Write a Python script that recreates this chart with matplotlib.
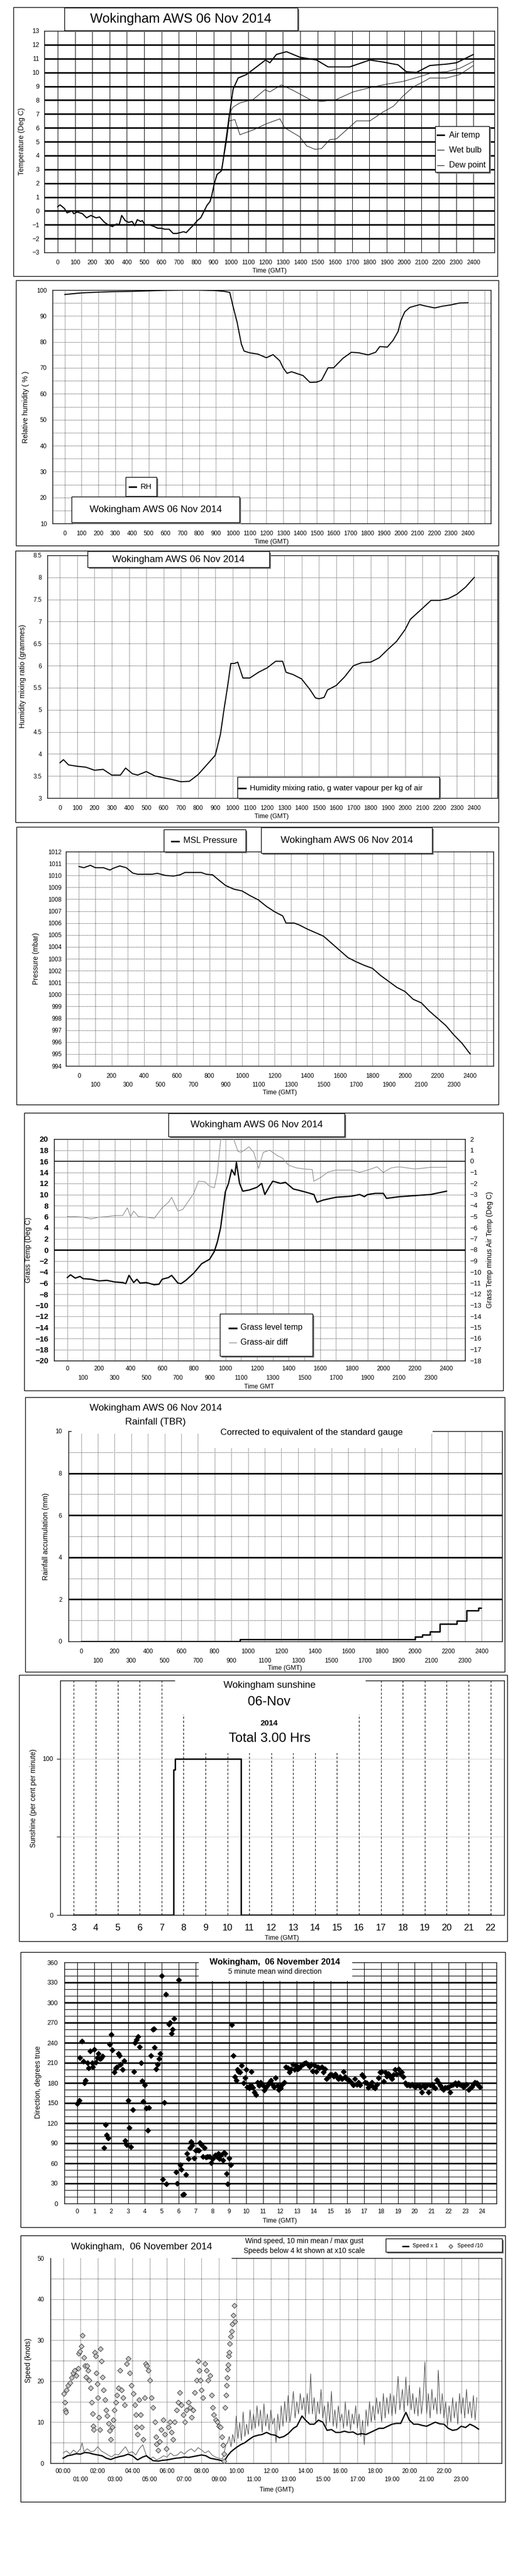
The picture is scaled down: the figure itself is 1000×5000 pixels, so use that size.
import matplotlib
matplotlib.use("Agg")
import matplotlib.pyplot as plt
from matplotlib.patches import Rectangle
from matplotlib.lines import Line2D

plt.rcParams['font.family'] = ['Liberation Sans', 'DejaVu Sans']

# ---------------------------------------------------------------- data
# panel 1 - temperatures, time as hhmm, deg C
night_t = [0, 14, 39, 54, 83, 93, 113, 143, 167, 192, 222, 242, 271, 291, 316, 341, 355, 370,
           390, 410, 430, 445, 460, 479, 489, 504, 529, 558, 578, 598, 618, 643, 667, 687, 707,
           727, 742, 766, 786, 806, 826, 846, 861, 880, 890, 905, 920, 946, 975]
night_v = [0.3, 0.44, 0.18, -0.14, 0.0, -0.2, -0.08, -0.2, -0.5, -0.33, -0.5, -0.44, -0.83, -1.0,
           -1.13, -0.94, -1.0, -0.33, -0.7, -0.83, -0.76, -1.07, -0.63, -0.76, -0.7, -1.0, -1.0,
           -1.13, -1.25, -1.25, -1.32, -1.32, -1.63, -1.63, -1.57, -1.5, -1.57, -1.25, -1.0, -0.7,
           -0.5, 0.0, 0.38, 0.69, 1.13, 2.0, 2.63, 2.9, 5.2]
air_t = [994, 1013, 1042, 1090, 1148, 1200, 1225, 1263, 1321, 1398, 1494, 1561, 1686, 1802,
         1879, 1965, 2013, 2071, 2148, 2244, 2302, 2400]
air_v = [7.1, 8.8, 9.6, 9.85, 10.4, 10.9, 10.7, 11.3, 11.5, 11.1, 10.9, 10.4, 10.4, 10.9,
         10.75, 10.55, 10.05, 10.0, 10.5, 10.6, 10.7, 11.3]
wet_t = [990, 1013, 1052, 1129, 1196, 1225, 1292, 1360, 1456, 1523, 1609, 1706, 1802, 1898,
         1994, 2090, 2167, 2244, 2321, 2400]
wet_v = [7.0, 7.5, 7.8, 8.05, 8.75, 8.6, 9.1, 8.7, 8.05, 7.9, 8.05, 8.6, 8.9, 9.15, 9.35, 9.7,
         10.0, 10.05, 10.3, 10.8]
dew_t = [990, 1023, 1052, 1129, 1206, 1283, 1311, 1398, 1437, 1485, 1523, 1571, 1609, 1725,
         1802, 1879, 1937, 1994, 2052, 2129, 2148, 2244, 2321, 2400]
dew_v = [6.5, 6.6, 5.5, 5.85, 6.3, 6.65, 6.0, 5.35, 4.7, 4.45, 4.5, 5.15, 5.2, 6.5, 6.5, 7.15,
         7.55, 8.3, 8.95, 9.45, 9.6, 9.6, 9.85, 10.5]

# panel 2 - relative humidity (%)
rh_t = [0, 100, 200, 300, 400, 500, 600, 700, 800, 900, 950, 982, 1002, 1026, 1051, 1067, 1100,
        1150, 1200, 1240, 1280, 1300, 1323, 1350, 1419, 1459, 1500, 1528, 1567, 1600, 1657, 1706,
        1750, 1806, 1850, 1875, 1920, 1954, 1984, 2000, 2024, 2054, 2113, 2150, 2202, 2250, 2300,
        2350, 2400]
rh_v = [98.3, 98.9, 99.2, 99.4, 99.5, 99.7, 99.9, 100, 100, 99.8, 99.5, 99.1, 93.6, 87.5, 79.2,
        76.5, 75.8, 75.3, 73.9, 75.1, 72.7, 70.0, 67.9, 68.5, 67.0, 64.4, 64.5, 65.2, 70.0, 70.0,
        73.75, 76.0, 75.8, 75.0, 76.0, 78.2, 78.0, 80.6, 84.0, 88.1, 91.6, 93.3, 94.4, 93.8, 93.1,
        93.8, 94.3, 95.0, 95.1]

# panel 3 - humidity mixing ratio (g/kg)
mr_t = [0, 20, 50, 100, 150, 200, 250, 300, 350, 380, 420, 450, 500, 550, 600, 650, 700, 750,
        800, 850, 900, 930, 950, 970, 990, 1010, 1030, 1060, 1100, 1150, 1200, 1250, 1290, 1310,
        1350, 1400, 1450, 1480, 1500, 1530, 1550, 1600, 1650, 1700, 1750, 1800, 1850, 1900, 1950,
        2000, 2030, 2100, 2150, 2200, 2250, 2300, 2350, 2400]
mr_v = [3.8, 3.87, 3.75, 3.72, 3.7, 3.63, 3.65, 3.52, 3.52, 3.68, 3.55, 3.52, 3.6, 3.5, 3.46,
        3.42, 3.37, 3.38, 3.53, 3.75, 3.97, 4.45, 5.0, 5.5, 6.05, 6.05, 6.08, 5.72, 5.72, 5.85,
        5.95, 6.1, 6.1, 5.85, 5.8, 5.7, 5.45, 5.27, 5.25, 5.28, 5.45, 5.55, 5.75, 6.0, 6.07, 6.08,
        6.18, 6.37, 6.55, 6.82, 7.05, 7.3, 7.48, 7.48, 7.52, 7.62, 7.78, 8.0]

# panel 4 - MSL pressure (mbar)
p_t = [0, 30, 70, 100, 150, 190, 210, 250, 290, 330, 360, 400, 450, 480, 530, 580, 620, 650, 700,
       750, 780, 820, 850, 900, 950, 1000, 1050, 1100, 1150, 1200, 1250, 1270, 1320, 1350, 1400,
       1450, 1500, 1550, 1600, 1650, 1700, 1750, 1800, 1850, 1900, 1950, 2000, 2050, 2100, 2150,
       2200, 2250, 2300, 2350, 2400]
p_v = [1010.75, 1010.65, 1010.85, 1010.65, 1010.65, 1010.45, 1010.6, 1010.8, 1010.65, 1010.2,
       1010.1, 1010.1, 1010.1, 1010.18, 1010.0, 1009.95, 1010.05, 1010.25, 1010.25, 1010.25,
       1010.1, 1010.05, 1009.7, 1009.15, 1008.85, 1008.7, 1008.3, 1007.95, 1007.4, 1006.95,
       1006.6, 1006.0, 1006.0, 1005.85, 1005.5, 1005.2, 1004.9, 1004.3, 1003.7, 1003.1, 1002.75,
       1002.45, 1002.2, 1001.6, 1001.1, 1000.6, 1000.25, 999.6, 999.3, 998.6, 998.0, 997.4,
       996.6, 995.9, 995.0]

# panel 5 - grass temperature (deg C) and grass minus air (deg C)
g_t = [0, 20, 50, 80, 100, 150, 200, 250, 300, 350, 370, 390, 420, 440, 460, 500, 550, 580, 600,
       640, 660, 700, 720, 750, 800, 850, 900, 930, 950, 970, 1000, 1020, 1040, 1060, 1070, 1090,
       1110, 1150, 1200, 1230, 1250, 1280, 1300, 1350, 1380, 1430, 1500, 1560, 1580, 1620, 1700,
       1800, 1850, 1880, 1900, 1950, 2000, 2020, 2100, 2200, 2300, 2400]
g_v = [-5.0, -4.5, -5.1, -4.8, -5.2, -5.3, -5.6, -5.5, -5.8, -5.9, -6.1, -4.6, -5.9, -5.3, -6.0,
       -5.9, -6.3, -6.2, -5.3, -5.0, -4.6, -6.0, -6.1, -5.5, -4.2, -2.5, -1.7, -0.3, 1.5, 4.0,
       10.5, 12.0, 14.5, 13.5, 15.8, 12.0, 10.6, 10.8, 11.3, 12.0, 10.0, 11.5, 12.4, 12.0, 12.2,
       11.0, 10.5, 10.0, 8.6, 9.0, 9.5, 9.7, 10.0, 9.6, 10.0, 10.2, 10.2, 9.3, 9.6, 9.8, 10.0,
       10.6]
gd_t = [0, 50, 100, 150, 200, 250, 300, 350, 380, 400, 420, 450, 500, 550, 600, 640, 660, 700,
        730, 800, 830, 870, 900, 930, 950, 970, 990, 1050, 1080, 1100, 1150, 1180, 1210, 1240,
        1280, 1330, 1360, 1400, 1450, 1500, 1550, 1560, 1600, 1650, 1700, 1800, 1850, 1900, 1960,
        2000, 2050, 2100, 2200, 2300, 2400]
gd_v = [-5.0, -5.0, -5.05, -5.2, -5.05, -5.0, -4.9, -4.9, -4.2, -5.0, -4.5, -5.0, -5.05, -5.15,
        -4.2, -3.7, -3.25, -4.5, -4.35, -2.9, -1.8, -1.85, -2.25, -2.4, -1.05, 1.9, 2.2, 2.1, 0.9,
        0.8, 1.3, 0.8, -0.65, 0.8, 1.0, 0.5, 0.3, -0.35, -0.6, -0.7, -0.75, -1.8, -1.5, -0.97,
        -0.8, -0.8, -1.0, -0.8, -0.5, -1.0, -0.6, -0.5, -0.7, -0.55, -0.55]

# panel 6 - rainfall accumulation (mm), stepped
rain_t = [0, 952, 2000, 2046, 2090, 2150, 2250, 2310, 2380, 2395]
rain_v = [0, 0.1, 0.21, 0.33, 0.47, 0.83, 0.97, 1.46, 1.59, 1.59]

# panel 7 - sunshine (per cent per minute), hours
sun_t = [3, 7.55, 7.62, 10.63, 22]
sun_v = [0, 93, 100, 0, 0]

# panel 8 - 5 minute mean wind direction (hours, degrees)
wd_t = [0.0, 0.1, 0.16, 0.26, 0.36, 0.41, 0.49, 0.59, 0.65, 0.75, 0.87, 0.91, 1.0, 1.1, 1.17,
        1.25, 1.34, 1.4, 1.48, 1.58, 1.66, 1.74, 1.82, 1.92, 2.0, 2.08, 2.19, 2.27, 2.35, 2.43,
        2.49, 2.57, 2.67, 2.77, 2.83, 2.92, 3.02, 3.08, 3.16, 3.28, 3.34, 3.42, 3.5, 3.58, 3.68,
        3.77, 3.85, 3.91, 3.99, 4.07, 4.17, 4.25, 4.37, 4.47, 4.53, 4.58, 4.66, 4.74, 4.84, 4.9,
        5.0, 5.06, 5.14, 5.24, 5.26, 5.43, 5.49, 5.59, 5.65, 5.73, 5.85, 5.93, 6.01, 6.09, 6.17,
        6.25, 6.32, 6.42, 6.48, 6.58, 6.68, 6.74, 6.8, 6.92, 7.02, 7.11, 7.19, 7.27, 7.35, 7.43,
        7.53, 7.63, 7.71, 7.83, 7.92, 8.02, 8.16, 8.26, 8.36, 8.42, 8.5, 8.62, 8.68, 8.75, 8.85,
        8.91, 8.99, 9.09, 9.15, 9.25, 9.33, 9.41, 9.49, 9.55, 9.64, 9.74, 9.84, 9.94, 10.0,
        10.08, 10.2, 10.28, 10.32, 10.4, 10.49, 10.57, 10.67, 10.77, 10.87, 10.97, 11.07, 11.17,
        11.26, 11.36, 11.46, 11.56, 11.66, 11.74, 11.86, 11.94, 12.06, 12.13, 12.25, 12.37,
        12.47, 12.57, 12.67, 12.77, 12.87, 12.96, 13.06, 13.16, 13.26, 13.36, 13.46, 13.56,
        13.66, 13.75, 13.85, 13.95, 14.05, 14.15, 14.25, 14.35, 14.49, 14.59, 14.68, 14.78,
        14.88, 14.98, 15.08, 15.18, 15.28, 15.38, 15.47, 15.57, 15.67, 15.77, 15.87, 15.97,
        16.07, 16.17, 16.26, 16.36, 16.46, 16.56, 16.66, 16.76, 16.86, 16.96, 17.06, 17.15,
        17.25, 17.35, 17.45, 17.55, 17.65, 17.75, 17.85, 17.94, 18.04, 18.14, 18.24, 18.34,
        18.44, 18.54, 18.64, 18.74, 18.83, 18.93, 19.03, 19.13, 19.23, 19.33, 19.43, 19.53,
        19.62, 19.72, 19.82, 19.92, 20.02, 20.12, 20.22, 20.32, 20.42, 20.51, 20.61, 20.71,
        20.81, 20.91, 21.01, 21.11, 21.21, 21.3, 21.4, 21.5, 21.6, 21.7, 21.8, 21.9, 22.0, 22.09,
        22.19, 22.29, 22.39, 22.49, 22.59, 22.68, 22.78, 22.88, 22.98, 23.08, 23.18, 23.28,
        23.38, 23.47, 23.57, 23.67, 23.77, 23.87]
wd_d = [149, 154, 218, 242, 212, 180, 184, 210, 202, 228, 210, 204, 230, 211, 218, 224, 216, 217,
        220, 83, 118, 102, 98, 238, 252, 229, 196, 202, 204, 224, 221, 208, 200, 213, 94, 88, 154,
        113, 85, 140, 197, 240, 245, 249, 234, 210, 183, 152, 177, 142, 109, 143, 221, 260, 261,
        233, 201, 208, 216, 224, 340, 36, 151, 312, 29, 268, 270, 254, 260, 276, 47, 30, 334, 58,
        51, 13, 14, 43, 75, 67, 83, 92, 87, 68, 79, 80, 79, 91, 88, 70, 83, 69, 70, 70, 61, 67,
        72, 70, 75, 67, 72, 65, 76, 75, 45, 29, 68, 58, 267, 221, 189, 184, 200, 197, 196, 206,
        180, 188, 200, 174, 172, 177, 197, 173, 166, 162, 181, 176, 181, 177, 169, 173, 176, 180,
        184, 178, 174, 188, 176, 170, 172, 178, 181, 204, 202, 196, 201, 208, 200, 206, 201, 202,
        206, 208, 209, 210, 208, 205, 208, 198, 206, 197, 204, 202, 204, 196, 201, 186, 189, 192,
        192, 190, 193, 189, 186, 189, 186, 197, 189, 186, 185, 182, 180, 177, 186, 178, 181, 177,
        192, 189, 181, 180, 173, 178, 181, 174, 172, 178, 188, 196, 197, 182, 196, 190, 194, 189,
        186, 192, 200, 193, 201, 194, 196, 189, 180, 177, 178, 176, 178, 176, 174, 176, 177, 174,
        166, 177, 174, 177, 166, 177, 178, 174, 172, 185, 181, 176, 172, 170, 173, 173, 174, 166,
        177, 178, 180, 177, 180, 178, 176, 174, 177, 178, 170, 172, 174, 178, 181, 180, 176, 174]

# panel 9 - wind speed (hours, knots)
ws_t = [0, 0.25, 0.5, 0.75, 1.0, 1.25, 1.5, 1.75, 2.0, 2.25, 2.5, 2.75, 3.0, 3.25, 3.5, 3.75,
        4.0, 4.3, 4.6, 4.8, 5.0, 5.2, 5.5, 5.75, 6.0, 6.25, 6.5, 6.75, 7.0, 7.25, 7.5, 7.75, 8.0,
        8.25, 8.5, 8.75, 9.0, 9.3, 9.5, 9.7, 10.0, 10.25, 10.5, 10.75, 11.0, 11.25, 11.5, 11.75,
        12.0, 12.25, 12.5, 12.75, 13.0, 13.3, 13.5, 13.8, 14.0, 14.25, 14.5, 14.75, 15.0, 15.25,
        15.5, 15.75, 16.0, 16.25, 16.5, 16.75, 17.0, 17.25, 17.5, 17.75, 18.0, 18.25, 18.5,
        18.75, 19.0, 19.25, 19.5, 19.8, 20.0, 20.25, 20.5, 20.75, 21.0, 21.25, 21.5, 21.75, 22.0,
        22.25, 22.5, 22.75, 23.0, 23.25, 23.5, 23.75, 24.0]
ws_v = [1.2, 1.8, 2.0, 2.3, 2.2, 2.6, 2.5, 2.2, 2.0, 1.8, 1.2, 0.9, 1.3, 1.6, 1.8, 2.2, 1.8, 0.8,
        1.5, 1.8, 1.2, 0.6, 0.5, 0.7, 0.8, 1.0, 1.2, 1.3, 1.5, 1.4, 1.6, 1.8, 2.0, 1.8, 1.2, 1.0,
        0.8, 0.4, 1.8, 2.8, 3.8, 4.5, 5.0, 5.8, 6.5, 6.8, 7.0, 7.5, 7.0, 6.8, 6.2, 6.5, 7.2, 8.5,
        9.0, 11.5, 10.5, 9.5, 9.5, 10.5, 10.0, 8.0, 8.2, 7.5, 7.5, 7.8, 7.5, 7.6, 7.0, 7.2, 7.0,
        7.5, 8.0, 8.5, 8.5, 9.0, 9.5, 9.7, 9.7, 12.4, 10.5, 9.5, 9.5, 9.2, 9.0, 9.5, 10.0, 9.6,
        9.5, 8.5, 8.0, 8.2, 9.0, 8.7, 9.5, 9.0, 8.3]
gust_t = [0.0, 0.2, 0.4, 0.6, 0.8, 1.0, 1.1, 1.2, 1.4, 1.6, 1.8, 2.0, 2.2, 2.4, 2.6, 2.8, 3.0,
          3.2, 3.4, 3.6, 3.8, 4.0, 4.2, 4.4, 4.6, 4.8, 5.0, 5.2, 5.4, 5.6, 5.8, 6.0, 6.2, 6.4,
          6.6, 6.8, 7.0, 7.2, 7.4, 7.6, 7.8, 8.0, 8.2, 8.4, 8.6, 8.8, 9.0, 9.2, 9.3, 9.4, 9.5,
          9.6, 9.7, 9.8, 9.9, 10.0, 10.1, 10.2, 10.3, 10.4, 10.5, 10.6, 10.7, 10.8, 10.9, 11.0,
          11.1, 11.2, 11.3, 11.4, 11.5, 11.6, 11.7, 11.8, 11.9, 12.0, 12.1, 12.2, 12.3, 12.4,
          12.5, 12.6, 12.7, 12.8, 12.9, 13.0, 13.1, 13.2, 13.3, 13.4, 13.5, 13.6, 13.7, 13.8,
          13.9, 14.0, 14.1, 14.2, 14.3, 14.4, 14.5, 14.6, 14.7, 14.8, 14.9, 15.0, 15.1, 15.2,
          15.3, 15.4, 15.5, 15.6, 15.7, 15.8, 15.9, 16.0, 16.1, 16.2, 16.3, 16.4, 16.5, 16.6,
          16.7, 16.8, 16.9, 17.0, 17.1, 17.2, 17.3, 17.4, 17.5, 17.6, 17.7, 17.8, 17.9, 18.0,
          18.1, 18.2, 18.3, 18.4, 18.5, 18.6, 18.7, 18.8, 18.9, 19.0, 19.1, 19.2, 19.35, 19.45,
          19.6, 19.7, 19.8, 19.9, 20.0, 20.1, 20.2, 20.3, 20.4, 20.5, 20.6, 20.7, 20.8, 20.9,
          21.0, 21.1, 21.2, 21.3, 21.4, 21.5, 21.6, 21.67, 21.8, 21.9, 22.0, 22.1, 22.2, 22.3,
          22.4, 22.5, 22.6, 22.7, 22.8, 22.9, 23.0, 23.1, 23.2, 23.3, 23.4, 23.5, 23.6, 23.7,
          23.8, 23.9]
gust_v = [2.5, 3.0, 2.2, 3.2, 2.5, 3.5, 5.0, 2.8, 3.5, 2.8, 3.0, 4.0, 3.0, 2.5, 2.0, 1.5, 2.2,
          2.0, 3.0, 4.0, 2.5, 2.8, 2.0, 3.5, 4.5, 2.0, 1.0, 1.5, 0.8, 1.2, 1.8, 1.5, 2.5, 1.8,
          2.0, 2.8, 2.2, 3.0, 3.5, 2.8, 3.8, 3.2, 2.5, 3.0, 2.0, 1.5, 1.2, 1.0, 2.5, 4.5, 5.0,
          6.5, 4.0, 7.0, 5.0, 11.5, 6.0, 10.0, 5.5, 12.5, 6.5, 9.5, 7.0, 13.0, 8.0, 12.0, 8.5,
          14.0, 9.0, 13.0, 7.5, 14.5, 9.0, 12.0, 8.0, 13.0, 9.5, 11.0, 5.0, 12.0, 8.0, 14.0, 9.0,
          15.0, 10.0, 16.5, 10.0, 13.0, 17.5, 11.0, 15.0, 12.0, 17.0, 13.0, 16.0, 11.0, 17.0,
          12.0, 21.8, 12.0, 16.0, 10.0, 15.0, 12.0, 18.0, 11.0, 14.0, 9.0, 15.0, 10.0, 17.5,
          9.0, 13.0, 8.5, 14.0, 10.0, 12.0, 8.5, 15.0, 9.0, 13.0, 8.0, 12.0, 9.5, 14.0, 8.5,
          12.0, 6.5, 10.5, 4.5, 13.0, 9.0, 15.0, 10.0, 14.0, 10.5, 16.0, 12.0, 15.0, 10.0, 17.0,
          11.0, 16.0, 12.0, 17.0, 11.5, 16.5, 12.0, 21.2, 13.0, 18.0, 12.5, 21.0, 14.0, 19.0,
          13.0, 17.0, 12.0, 16.0, 11.5, 18.5, 12.0, 16.0, 24.7, 12.0, 17.0, 11.0, 18.0, 13.0,
          16.0, 12.0, 22.7, 12.0, 17.0, 11.0, 15.0, 9.0, 14.0, 10.0, 16.0, 11.0, 15.0, 9.5, 17.0,
          12.0, 16.0, 11.0, 18.0, 12.0, 15.0, 11.0, 16.5, 10.5, 16.0]
low_t = [0.04, 0.1, 0.13, 0.15, 0.19, 0.29, 0.39, 0.48, 0.58, 0.67, 0.77, 0.87, 0.92, 0.96, 1.06,
         1.12, 1.19, 1.25, 1.31, 1.39, 1.45, 1.5, 1.58, 1.66, 1.7, 1.73, 1.77, 1.83, 1.89, 1.93,
         1.98, 2.02, 2.06, 2.12, 2.16, 2.22, 2.27, 2.33, 2.41, 2.47, 2.54, 2.62, 2.7, 2.76, 2.83,
         2.89, 2.97, 3.04, 3.12, 3.2, 3.28, 3.37, 3.47, 3.56, 3.66, 3.76, 3.85, 3.95, 4.05, 4.14,
         4.2, 4.24, 4.3, 4.39, 4.47, 4.55, 4.62, 4.72, 4.78, 4.84, 4.91, 5.01, 5.11, 5.2, 5.3,
         5.36, 5.39, 5.49, 5.59, 5.68, 5.78, 5.88, 5.97, 6.07, 6.17, 6.26, 6.36, 6.45, 6.55, 6.65,
         6.74, 6.84, 6.94, 7.03, 7.13, 7.23, 7.32, 7.42, 7.51, 7.61, 7.71, 7.8, 7.86, 7.94, 8.0,
         8.09, 8.19, 8.29, 8.38, 8.48, 8.57, 8.63, 8.71, 8.81, 8.9, 9.0, 9.09, 9.19, 9.25, 9.29,
         9.31, 9.36, 9.4, 9.44, 9.48, 9.5, 9.54, 9.56, 9.6, 9.63, 9.69, 9.73, 9.77, 9.83, 9.88,
         9.92]
low_v = [17.0, 14.8, 13.0, 12.4, 17.8, 19.0, 19.6, 20.8, 22.0, 22.6, 21.4, 23.1, 26.7, 27.3,
         28.5, 31.2, 25.8, 23.7, 21.0, 23.7, 22.6, 20.2, 18.4, 14.8, 12.1, 9.1, 8.2, 27.0, 26.1,
         22.0, 19.3, 16.0, 11.2, 8.2, 27.9, 24.9, 21.0, 17.8, 15.4, 13.0, 11.5, 9.7, 7.9, 5.8,
         8.8, 10.6, 13.0, 14.8, 16.6, 18.4, 22.6, 17.8, 16.0, 14.2, 24.3, 25.5, 22.0, 19.0, 16.9,
         14.2, 11.8, 8.8, 7.0, 15.4, 11.8, 8.8, 5.8, 16.0, 24.3, 23.7, 22.6, 20.2, 16.0, 13.6,
         10.0, 6.4, 4.7, 3.2, 5.3, 8.2, 10.6, 7.0, 3.5, 8.8, 10.0, 7.6, 5.8, 10.0, 13.0, 14.8,
         17.2, 14.2, 11.8, 10.0, 13.0, 14.8, 13.6, 11.2, 13.0, 17.2, 20.2, 24.9, 22.6, 20.2, 17.8,
         16.0, 24.3, 22.6, 20.2, 21.4, 16.6, 13.6, 11.8, 10.6, 10.0, 9.1, 8.8, 6.4, 4.4, 2.3, 0.5,
         13.6, 16.6, 19.0, 20.8, 22.9, 24.0, 26.1, 27.0, 29.1, 30.9, 32.1, 33.9, 36.0, 38.4,
         34.5]

title = "Wokingham AWS 06 Nov 2014"
hhmm = list(range(0, 2401, 100))
even = list(range(0, 2401, 200))
odd = list(range(100, 2400, 200))

# ---------------------------------------------------------------- helpers (pixel layout)
W, H = 1000, 5000
fig = plt.figure(figsize=(W / 100, H / 100), dpi=100)
DOT = (0, (1, 1.6))
GREY = '#8c8c8c'


def axes_px(x0, y0, x1, y1, xlim, ylim):
    ax = fig.add_axes([x0 / W, 1 - y1 / H, (x1 - x0) / W, (y1 - y0) / H])
    ax.set_xlim(*xlim)
    ax.set_ylim(*ylim)
    ax.tick_params(length=0, labelsize=8.5)
    for s in ax.spines.values():
        s.set_linewidth(1.0)
    return ax


def rect_px(x0, y0, x1, y1, fc='none', ec='black', lw=1.0, z=1):
    fig.add_artist(Rectangle((x0 / W, 1 - y1 / H), (x1 - x0) / W, (y1 - y0) / H,
                             transform=fig.transFigure, facecolor=fc, edgecolor=ec,
                             linewidth=lw, zorder=z))


def shadow_box(x0, y0, x1, y1):
    rect_px(x0 + 3, y0 + 3, x1 + 3, y1 + 3, fc='#7a7a7a', ec='none', z=10)
    rect_px(x0, y0, x1, y1, fc='white', ec='black', lw=1.0, z=10.5)


def text_px(x, y, s, size=10, ha='center', rot=0, **kw):
    fig.text(x / W, 1 - y / H, s, fontsize=size, ha=ha, va='center', rotation=rot,
             zorder=12, **kw)


def line_px(x0, x1, y, color='black', lw=2.0):
    fig.add_artist(Line2D([x0 / W, x1 / W], [1 - y / H, 1 - y / H], transform=fig.transFigure,
                          color=color, lw=lw, zorder=12))


def dotted_grid(ax, xs=(), ys=()):
    for x in xs:
        ax.axvline(x, color='black', lw=0.7, ls=DOT, zorder=1)
    for y in ys:
        ax.axhline(y, color='black', lw=0.7, ls=DOT, zorder=1)


def two_row_xticks(ax, pad1, pad2, size=8.5):
    ax.set_xticks(even)
    ax.set_xticklabels([str(v) for v in even])
    ax.set_xticks(odd, minor=True)
    ax.set_xticklabels([str(v) for v in odd], minor=True)
    ax.tick_params(axis='x', which='major', pad=pad1, labelsize=size)
    ax.tick_params(axis='x', which='minor', pad=pad2, labelsize=size, length=0)


# ---------------------------------------------------------------- panel 1: temperature
rect_px(26, 14, 966, 536)
ax = axes_px(86, 60, 960, 490, (-77, 2521), (-3, 13))
for v in range(-2, 13):
    ax.axhline(v, color='black', lw=2.2, zorder=1)
for t in hhmm:
    ax.axvline(t, color='black', lw=0.7, zorder=1)
ax.set_xticks(hhmm)
ax.set_yticks(range(-3, 14))
ax.tick_params(axis='x', pad=10, labelsize=8.5)
ax.tick_params(axis='y', pad=7, labelsize=9)
ax.plot(night_t + air_t, night_v + air_v, color='black', lw=1.6, zorder=3)
ax.plot(night_t[:-1] + wet_t, night_v[:-1] + wet_v, color='black', lw=0.7, zorder=3)
ax.plot(night_t[:-1] + dew_t, night_v[:-1] + dew_v, color='black', lw=0.7, zorder=3)
shadow_box(125, 15, 578, 59)
text_px(351, 37, title, size=18.5)
text_px(523, 526, "Time (GMT)", size=9)
text_px(42, 274, "Temperature (Deg C)", size=10, rot=90)
shadow_box(845, 245, 950, 334)
for yy, lab, lw in [(262, "Air temp", 2.2), (291, "Wet bulb", 0.8), (321, "Dew point", 0.8)]:
    line_px(849, 862, yy, lw=lw)
    text_px(872, yy, lab, size=11.5, ha='left')

# ---------------------------------------------------------------- panel 2: RH
rect_px(31, 544, 968, 1059)
ax = axes_px(102, 563, 953, 1016, (-73, 2536), (10, 100))
dotted_grid(ax, xs=hhmm + [2500], ys=range(15, 100, 5))
ax.set_xticks(hhmm)
ax.set_yticks(range(10, 101, 10))
ax.tick_params(axis='x', pad=10)
ax.tick_params(axis='y', pad=8)
ax.plot(rh_t, rh_v, color='black', lw=1.5, zorder=3)
text_px(527, 1052, "Time (GMT)", size=9)
text_px(50, 790, "Relative humidity ( % )", size=10, rot=90)
shadow_box(244, 926, 304, 963)
line_px(251, 264, 945, lw=2.2)
text_px(273, 945, "RH", size=11, ha='left')
shadow_box(139, 964, 465, 1014)
text_px(302, 989, title, size=13.5)

# ---------------------------------------------------------------- panel 3: mixing ratio
rect_px(30, 1069, 968, 1596)
ax = axes_px(92, 1078, 966, 1549, (-73, 2535), (3, 8.5))
dotted_grid(ax, xs=hhmm + [2500], ys=[3.5 + 0.5 * i for i in range(10)])
ax.set_xticks(hhmm)
ax.set_yticks([3 + 0.5 * i for i in range(12)])
ax.set_yticklabels(['%g' % (3 + 0.5 * i) for i in range(12)])
ax.tick_params(axis='x', pad=10)
ax.tick_params(axis='y', pad=8)
ax.plot(mr_t, mr_v, color='black', lw=1.5, zorder=3)
text_px(527, 1585, "Time (GMT)", size=9)
text_px(44, 1313, "Humidity mixing ratio (grammes)", size=10, rot=90)
shadow_box(170, 1070, 523, 1101)
text_px(346, 1086, title, size=13.5)
shadow_box(461, 1508, 853, 1549)
line_px(463, 477, 1530, lw=2.2)
text_px(485, 1530, "Humidity mixing ratio, g water vapour per kg of air", size=11, ha='left')

# ---------------------------------------------------------------- panel 4: pressure
rect_px(32, 1605, 968, 2144)
ax = axes_px(128, 1653, 958, 2069, (-80, 2542), (994, 1012))
dotted_grid(ax, xs=hhmm + [2500], ys=range(995, 1012))
two_row_xticks(ax, 10, 22)
ax.set_yticks(range(994, 1013))
ax.tick_params(axis='y', pad=6)
ax.plot(p_t, p_v, color='black', lw=1.5, zorder=3)
text_px(543, 2121, "Time (GMT)", size=9)
text_px(70, 1861, "Pressure (mbar)", size=10, rot=90)
shadow_box(318, 1610, 477, 1653)
line_px(333, 347, 1633, lw=2.2)
text_px(356, 1632, "MSL Pressure", size=12, ha='left')
shadow_box(507, 1606, 839, 1656)
text_px(673, 1631, title, size=13.5)

# ---------------------------------------------------------------- panel 5: grass temperature
rect_px(47, 2160, 977, 2699)
ax = axes_px(105, 2211, 903, 2641, (-84, 2517), (-20, 20))
dotted_grid(ax, xs=hhmm, ys=[v for v in range(-18, 20, 2) if v not in (0, 16)])
ax.axhline(0, color='black', lw=2.0, zorder=2)
ax.axhline(16, color='black', lw=1.2, zorder=2)
two_row_xticks(ax, 7, 20)
ax.set_yticks(range(-20, 21, 2))
ax.tick_params(axis='y', pad=8, labelsize=11)
for lab in ax.get_yticklabels():
    lab.set_fontweight('bold')
ax.plot(g_t, g_v, color='black', lw=1.8, zorder=4)
ax2 = ax.twinx()
ax2.set_ylim(-18, 2)
ax2.set_yticks(range(-18, 3))
ax2.tick_params(length=0, pad=7, labelsize=9.5)
ax2.plot(gd_t, gd_v, color=GREY, lw=0.9, zorder=3)
shadow_box(327, 2161, 669, 2206)
text_px(498, 2183, title, size=13.5)
text_px(503, 2692, "Time GMT", size=9)
text_px(55, 2426, "Grass Temp (Deg C)", size=10, rot=90)
text_px(951, 2426, "Grass Temp minus Air Temp (Deg C)", size=10, rot=90)
shadow_box(427, 2550, 607, 2632)
line_px(445, 459, 2578, lw=2.4)
text_px(467, 2577, "Grass level temp", size=11.5, ha='left')
line_px(445, 459, 2606, color=GREY, lw=1.0)
text_px(467, 2605, "Grass-air diff", size=11.5, ha='left')

# ---------------------------------------------------------------- panel 6: rainfall
rect_px(49, 2712, 980, 3245)
ax = axes_px(133, 2778, 975, 3186, (-76, 2523), (0, 10))
dotted_grid(ax, xs=hhmm, ys=[1, 3, 5, 7, 9])
for v in (2, 4, 6, 8):
    ax.axhline(v, color='black', lw=2.2, zorder=2)
two_row_xticks(ax, 10, 23)
ax.set_yticks(range(0, 11, 2))
ax.tick_params(axis='y', pad=9)
ax.step(rain_t, rain_v, where='post', color='black', lw=2.0, zorder=3)
rect_px(139, 2774, 840, 2783, fc='white', ec='none', z=5)
rect_px(385, 2774, 835, 2810, fc='white', ec='none', z=5)
text_px(302, 2734, title, size=13.5)
text_px(302, 2760, "Rainfall (TBR)", size=13.5)
text_px(605, 2781, "Corrected to equivalent of the standard gauge", size=12.5)
text_px(553, 3238, "Time (GMT)", size=9)
text_px(89, 2982, "Rainfall accumulation (mm)", size=10, rot=90)

# ---------------------------------------------------------------- panel 7: sunshine
rect_px(37, 3251, 985, 3768)
ax = axes_px(117, 3262, 979, 3717, (2.38, 22.62), (0, 150))
for h in range(3, 23):
    ax.axvline(h, color='black', lw=0.8, ls=(0, (4, 3)), zorder=1)
for v in (50, 100):
    ax.axhline(v, color='#a0a0a0', lw=0.8, ls=DOT, zorder=1)
ax.set_xticks(range(3, 23))
ax.tick_params(axis='x', pad=12, labelsize=13)
ax.set_yticks([0, 50, 100])
ax.set_yticklabels(['0', '', '100'])
ax.tick_params(axis='y', length=5, direction='out', pad=5, labelsize=9)
ax.plot(sun_t, sun_v, drawstyle='steps-post', color='black', lw=2.0, zorder=3)
rect_px(340, 3258, 710, 3328, fc='white', ec='none', z=5)
rect_px(358, 3328, 694, 3403, fc='white', ec='none', z=5)
text_px(523, 3272, "Wokingham sunshine", size=13.5)
text_px(523, 3303, "06-Nov", size=18.5)
text_px(523, 3345, "2014", size=11, fontweight='bold')
text_px(523, 3374, "Total 3.00 Hrs", size=18.5)
text_px(547, 3762, "Time (GMT)", size=9)
text_px(65, 3490, "Sunshine (per cent per minute)", size=10, rot=90)

# ---------------------------------------------------------------- panel 8: wind direction
rect_px(40, 3789, 981, 4323)
ax = axes_px(125, 3809, 964, 4277, (-0.77, 24.84), (0, 360))
for v in range(10, 360, 10):
    ax.axhline(v, color='black', lw=2.2 if v % 30 == 0 else 0.8, zorder=1)
for h in range(0, 25):
    ax.axvline(h, color='black', lw=0.8, zorder=1)
ax.set_xticks(range(0, 25))
ax.set_yticks(range(0, 361, 30))
ax.tick_params(axis='x', pad=7)
ax.tick_params(axis='y', pad=9, labelsize=9)
ax.plot(wd_t, wd_d, ls='none', marker='D', ms=4.8, color='black', zorder=3)
rect_px(386, 3803, 684, 3845, fc='white', ec='none', z=5)
text_px(534, 3808, "Wokingham,  06 November 2014", size=12, fontweight='bold')
text_px(534, 3827, "5 minute mean wind direction", size=10)
text_px(543, 4311, "Time (GMT)", size=9)
text_px(74, 4041, "Direction, degrees true", size=10, rot=90)

# ---------------------------------------------------------------- panel 9: wind speed
rect_px(40, 4339, 981, 4856)
ax = axes_px(98, 4383, 974, 4781, (-0.73, 25.33), (0, 50))
dotted_grid(ax, xs=range(0, 25), ys=range(5, 50, 5))
ax.spines['top'].set_visible(False)
ax.plot([9.73, 25.33], [50, 50], color='black', lw=1.0, clip_on=False, zorder=3)
ax.set_xticks(range(0, 24, 2))
ax.set_xticklabels(['%02d:00' % h for h in range(0, 24, 2)])
ax.set_xticks(range(1, 24, 2), minor=True)
ax.set_xticklabels(['%02d:00' % h for h in range(1, 24, 2)], minor=True)
ax.tick_params(axis='x', which='major', pad=7, labelsize=8.5)
ax.tick_params(axis='x', which='minor', pad=19, labelsize=8.5, length=0)
ax.set_yticks(range(0, 51, 10))
ax.tick_params(axis='y', pad=9)
ax.plot(gust_t, gust_v, color='#505050', lw=0.8, zorder=3)
ax.plot(ws_t, ws_v, color='black', lw=1.8, zorder=4)
ax.plot(low_t, low_v, ls='none', marker='D', ms=5, mfc='#c8c8c8', mec='#303030', mew=0.7,
        zorder=5)
text_px(275, 4362, "Wokingham,  06 November 2014", size=13.5)
text_px(591, 4350, "Wind speed, 10 min mean / max gust", size=10)
text_px(591, 4369, "Speeds below 4 kt shown at x10 scale", size=10)
shadow_box(749, 4345, 975, 4371)
line_px(782, 793, 4360, lw=2.0)
text_px(801, 4359, "Speed x 1", size=7.8, ha='left')
fig.add_artist(Line2D([875 / W], [1 - 4360 / H], transform=fig.transFigure, marker='D', ms=4,
                      mfc='#c8c8c8', mec='#303030', mew=0.7, ls='none', zorder=12))
text_px(888, 4359, "Speed /10", size=7.8, ha='left')
text_px(537, 4833, "Time (GMT)", size=9)
text_px(55, 4582, "Speed (knots)", size=10, rot=90)

fig.savefig("out.png", dpi=100, facecolor='white')
